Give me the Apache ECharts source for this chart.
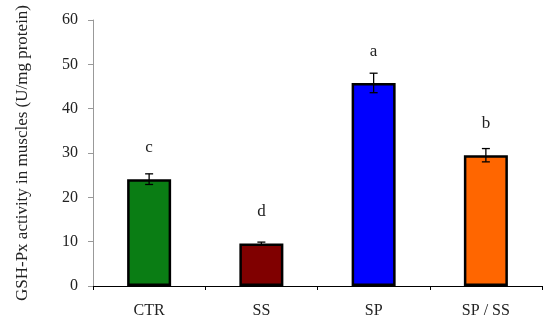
<!DOCTYPE html>
<html><head><meta charset="utf-8">
<script src="https://cdn.jsdelivr.net/npm/echarts@6/dist/echarts.min.js"></script>
<style>html,body{margin:0;padding:0;background:#fff}#c{width:550px;height:332px}</style>
</head><body><div id="c"></div>
<script>
const categories = ['CTR', 'SS', 'SP', 'SP / SS'];
const means = [24.1, 9.6, 45.8, 29.5];
const errors = [1.2, 0.3, 2.2, 1.5];
const letters = ['c', 'd', 'a', 'b'];
const colors = ['#0a7d14', '#800000', '#0000ff', '#ff6600'];
const yTicks = [0, 10, 20, 30, 40, 50, 60];

const font = 'Liberation Serif';
const chart = echarts.init(document.getElementById('c'), null, {renderer: 'canvas'});
chart.setOption({
  animation: false,
  grid: {left: 93, right: 8, top: 20, bottom: 46},
  xAxis: {
    type: 'category', data: categories,
    axisLine: {lineStyle: {color: '#000', width: 1}},
    axisTick: {show: true, length: 4, lineStyle: {color: '#000'}},
    axisLabel: {fontFamily: font, fontSize: 16, color: '#222', margin: 17}
  },
  yAxis: {
    type: 'value', min: yTicks[0], max: yTicks[yTicks.length - 1], interval: 10,
    name: 'GSH-Px activity in muscles (U/mg protein)',
    nameLocation: 'middle', nameGap: 62,
    nameTextStyle: {fontFamily: font, fontSize: 17, color: '#222'},
    axisLine: {show: true, lineStyle: {color: '#999'}},
    axisTick: {show: true, length: 5, lineStyle: {color: '#999'}},
    splitLine: {show: false},
    axisLabel: {fontFamily: font, fontSize: 16, color: '#222', margin: 15}
  },
  series: [
    {
      type: 'bar', barWidth: 44,
      data: means.map((v, i) => ({value: v, itemStyle: {color: colors[i]}})),
      itemStyle: {borderColor: '#000', borderWidth: 2.5},
      label: {show: true, position: 'top', distance: 23, formatter: p => letters[p.dataIndex],
              fontFamily: font, fontSize: 17, color: '#222'},
      z: 2
    },
    {
      type: 'custom',
      data: means.map((v, i) => [i, v - errors[i], v + errors[i]]),
      renderItem: function (params, api) {
        const x = api.value(0);
        const lo = api.coord([x, api.value(1)]);
        const hi = api.coord([x, api.value(2)]);
        const w = 4;
        const st = {stroke: '#000', lineWidth: 1.3};
        return {type: 'group', children: [
          {type: 'line', shape: {x1: lo[0], y1: lo[1], x2: hi[0], y2: hi[1]}, style: st},
          {type: 'line', shape: {x1: lo[0] - w, y1: lo[1], x2: lo[0] + w, y2: lo[1]}, style: st},
          {type: 'line', shape: {x1: hi[0] - w, y1: hi[1], x2: hi[0] + w, y2: hi[1]}, style: st}
        ]};
      },
      z: 3
    }
  ]
});
</script></body></html>
